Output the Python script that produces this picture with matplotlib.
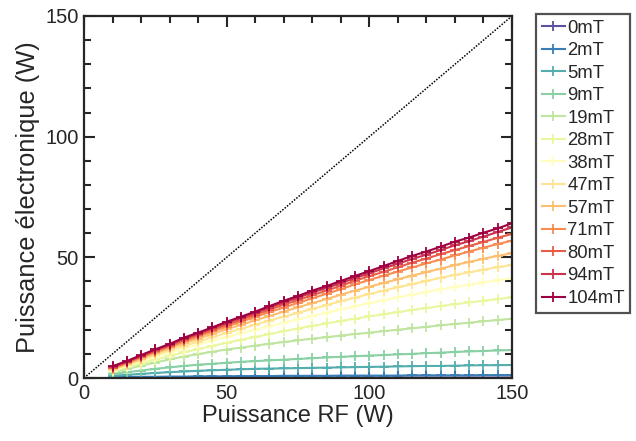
import matplotlib
matplotlib.use("Agg")
import matplotlib.pyplot as plt
import numpy as np
from matplotlib.ticker import MultipleLocator

plt.rcParams['font.family'] = ['Liberation Sans', 'DejaVu Sans']

rf_power = list(range(10, 155, 5))
labels = ["0mT", "2mT", "5mT", "9mT", "19mT", "28mT", "38mT", "47mT",
          "57mT", "71mT", "80mT", "94mT", "104mT"]

p_0 = [0.0, 0.1, 0.1, 0.1, 0.1, 0.1, 0.1, 0.1, 0.1, 0.1, 0.1, 0.1, 0.1, 0.1, 0.1,
       0.1, 0.2, 0.2, 0.2, 0.2, 0.2, 0.2, 0.2, 0.2, 0.2, 0.2, 0.2, 0.2, 0.2]
p_2 = [0.3, 0.4, 0.5, 0.5, 0.6, 0.6, 0.7, 0.7, 0.7, 0.8, 0.8, 0.8, 0.9, 0.9, 0.9,
       0.9, 1.0, 1.0, 1.0, 1.0, 1.0, 1.1, 1.1, 1.1, 1.1, 1.1, 1.2, 1.2, 1.2]
p_5 = [0.9, 1.3, 1.7, 2.1, 2.4, 2.7, 3.0, 3.2, 3.4, 3.6, 3.8, 3.9, 4.0, 4.1, 4.2,
       4.3, 4.4, 4.5, 4.6, 4.7, 4.8, 4.9, 5.0, 5.0, 5.1, 5.2, 5.3, 5.3, 5.4]
p_9 = [1.6, 2.4, 3.1, 3.8, 4.4, 5.0, 5.5, 5.9, 6.3, 6.7, 7.0, 7.3, 7.6, 7.9, 8.2,
       8.5, 8.8, 9.0, 9.3, 9.5, 9.8, 10.0, 10.3, 10.5, 10.8, 11.0, 11.2, 11.4, 11.6]
p_19 = [2.3, 3.7, 5.1, 6.4, 7.7, 8.9, 9.9, 10.9, 11.8, 12.6, 13.4, 14.2, 14.9, 15.6, 16.3,
        16.9, 17.6, 18.2, 18.8, 19.4, 20.0, 20.6, 21.2, 21.8, 22.4, 22.9, 23.5, 24.0, 24.6]
p_28 = [2.7, 4.4, 6.0, 7.6, 9.1, 10.6, 12.0, 13.3, 14.6, 15.8, 17.0, 18.2, 19.4, 20.5, 21.6,
        22.6, 23.6, 24.6, 25.5, 26.4, 27.3, 28.2, 29.0, 29.8, 30.6, 31.3, 32.0, 32.7, 33.4]
p_38 = [3.1, 5.0, 6.9, 8.8, 10.5, 12.2, 13.9, 15.5, 17.0, 18.5, 20.0, 21.5, 22.9, 24.3, 25.7,
        27.0, 28.4, 29.7, 31.0, 32.2, 33.4, 34.5, 35.6, 36.7, 37.7, 38.7, 39.6, 40.5, 41.3]
p_47 = [3.4, 5.4, 7.4, 9.5, 11.4, 13.3, 15.1, 16.9, 18.7, 20.4, 22.1, 23.8, 25.4, 27.0, 28.6,
        30.2, 31.8, 33.3, 34.8, 36.2, 37.6, 38.9, 40.2, 41.5, 42.7, 43.8, 44.9, 45.9, 46.8]
p_57 = [3.7, 5.8, 8.0, 10.2, 12.3, 14.4, 16.3, 18.3, 20.2, 22.0, 23.9, 25.7, 27.5, 29.3, 31.0,
        32.7, 34.5, 36.2, 37.8, 39.4, 40.9, 42.4, 43.9, 45.3, 46.8, 48.1, 49.4, 50.6, 51.7]
p_71 = [4.0, 6.2, 8.5, 10.8, 12.9, 15.2, 17.2, 19.3, 21.3, 23.3, 25.3, 27.3, 29.2, 31.1, 33.0,
        34.9, 36.8, 38.8, 40.6, 42.4, 44.1, 45.8, 47.5, 49.1, 50.8, 52.4, 54.0, 55.5, 56.9]
p_80 = [4.3, 6.5, 8.9, 11.2, 13.4, 15.8, 17.9, 20.0, 22.1, 24.1, 26.2, 28.3, 30.4, 32.3, 34.3,
        36.2, 38.2, 40.3, 42.2, 44.0, 45.9, 47.8, 49.5, 51.3, 53.0, 54.7, 56.4, 58.1, 59.7]
p_94 = [4.6, 6.8, 9.2, 11.6, 13.8, 16.3, 18.4, 20.6, 22.8, 24.9, 27.0, 29.2, 31.3, 33.3, 35.4,
        37.3, 39.3, 41.4, 43.4, 45.4, 47.4, 49.3, 51.1, 53.0, 55.0, 56.7, 58.6, 60.5, 62.4]
p_104 = [4.9, 7.0, 9.5, 11.9, 14.1, 16.7, 18.8, 21.0, 23.3, 25.4, 27.5, 29.8, 32.0, 34.0, 36.2,
         38.1, 40.2, 42.3, 44.3, 46.4, 48.5, 50.6, 52.4, 54.4, 56.5, 58.2, 60.2, 62.0, 64.1]

series = [p_0, p_2, p_5, p_9, p_19, p_28, p_38, p_47, p_57, p_71, p_80, p_94, p_104]
diag = [0, 150]

fig = plt.figure(figsize=(6.36, 4.41), dpi=100)
ax = fig.add_axes([84/636, 1 - 378/441, (512-84)/636, (378-16)/441])

cmap = plt.get_cmap('Spectral_r')
colors = [cmap(v) for v in np.linspace(0, 1, len(series))]

ax.plot(diag, diag, linestyle=(0, (1, 1.0)), color='black', linewidth=1.1, zorder=1)
for vals, lab, c in zip(series, labels, colors):
    ax.plot(rf_power, vals, color=c, marker='+', markersize=7, markeredgewidth=1.3,
            linewidth=1.5, label=lab, zorder=2)

ax.set_xlim(0, 150)
ax.set_ylim(0, 150)
ax.xaxis.set_major_locator(MultipleLocator(50))
ax.yaxis.set_major_locator(MultipleLocator(50))
ax.xaxis.set_minor_locator(MultipleLocator(10))
ax.yaxis.set_minor_locator(MultipleLocator(10))
ax.tick_params(which='both', direction='in', top=True, right=True, width=1.5,
               colors='#262626', labelcolor='#262626')
ax.tick_params(which='major', length=8, labelsize=14.5, pad=4)
ax.tick_params(which='minor', length=5)
for s in ax.spines.values():
    s.set_linewidth(1.6)
    s.set_color('#262626')

ax.set_xlabel('Puissance RF (W)', fontsize=17, color='#262626', labelpad=2)
ax.set_ylabel('Puissance électronique (W)', fontsize=18.3, color='#262626', labelpad=4)

leg = fig.legend(loc='upper left', bbox_to_anchor=(536/636, 1 - 14/441),
                 borderaxespad=0, fontsize=13.3, handlelength=1.25, handletextpad=0.15,
                 labelspacing=0.3, borderpad=0.3, fancybox=False, frameon=True)
leg.get_frame().set_edgecolor('#262626')
leg.get_frame().set_linewidth(1.6)
for t in leg.get_texts():
    t.set_color('#262626')

fig.savefig('out.png', dpi=100)
